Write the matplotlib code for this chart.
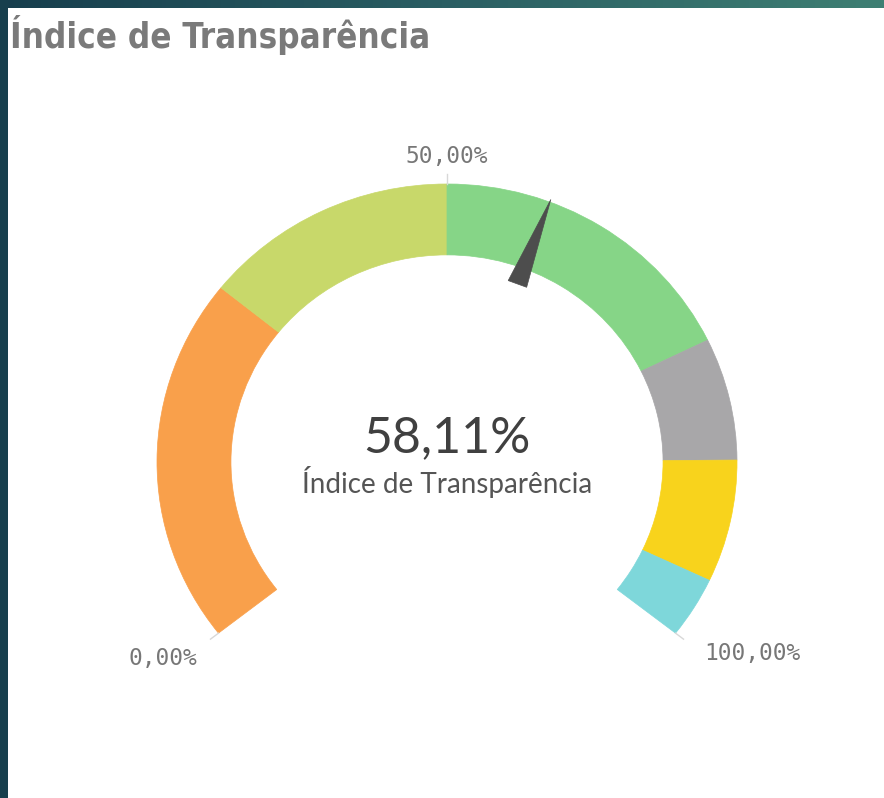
"""
Gauge do Índice de Transparência recriado com matplotlib.
"""

import numpy as np
import matplotlib
matplotlib.use('Agg')
import matplotlib.pyplot as plt
from matplotlib.patches import Wedge, Polygon, Rectangle

# Dados do gauge
band_limits = [0, 30, 50, 75, 85, 95, 100]
band_colors = ['#f9a04b', '#c8d86a', '#86d587', '#a8a7a9', '#f8d31c', '#7ed7da']
value = 58.11
tick_values = [0, 50, 100]
tick_labels = ['0,00%', '50,00%', '100,00%']
title = 'Índice de Transparência'
value_label = '58,11%'

# Geometria (ângulos em graus, raio unitário)
START_ANGLE = 218.0
END_ANGLE = -38.0
R_OUT = 1.0
R_IN = 0.745


def pct_to_angle(p):
    return START_ANGLE + (END_ANGLE - START_ANGLE) * p / 100.0


W, H = 884, 798
fig = plt.figure(figsize=(W / 100, H / 100), dpi=100)
fig.patch.set_facecolor('white')

# Moldura escura (faixa superior em degradê + faixa esquerda)
band = fig.add_axes([0, 1 - 8 / H, 1, 8 / H])
grad = np.linspace(0, 1, 256).reshape(1, -1)
cmap = matplotlib.colors.LinearSegmentedColormap.from_list('frame', ['#173e4d', '#2a5e63', '#3e7f73'])
band.imshow(grad, aspect='auto', cmap=cmap, extent=[0, 1, 0, 1])
band.axis('off')
fig.patches.append(Rectangle((0, 0), 8 / W, 1, transform=fig.transFigure,
                             facecolor='#173f4d', edgecolor='none', zorder=5))

# Eixo do gauge: centro em (447, 462) px, raio horizontal 290 px, vertical 278 px
cx, cy = 447, 462
sx, sy = 290, 278
ax = fig.add_axes([0, 0, 1, 1 - 8 / H])
ax.set_xlim(-cx / sx, (W - cx) / sx)
ax.set_ylim(-(H - cy) / sy, (cy - 8) / sy)
ax.axis('off')

for lo, hi, col in zip(band_limits[:-1], band_limits[1:], band_colors):
    a1, a2 = pct_to_angle(hi), pct_to_angle(lo)
    ax.add_patch(Wedge((0, 0), R_OUT, a1, a2, width=R_OUT - R_IN,
                       facecolor=col, edgecolor=col, linewidth=0.5))

# Marcas e rótulos
offsets = {0: (-12, -18, 'right'), 50: (0, 16, 'center'), 100: (20, -13, 'left')}
for v, lab in zip(tick_values, tick_labels):
    th = np.radians(pct_to_angle(v))
    ax.plot([R_OUT * np.cos(th), 1.035 * np.cos(th)],
            [R_OUT * np.sin(th), 1.035 * np.sin(th)], color='#d8d8d8', lw=1)
    px, py = 1.04 * np.cos(th), 1.04 * np.sin(th)
    dx, dy, ha = offsets[v]
    ax.annotate(lab, (px, py), xytext=(dx * 0.72, dy * 0.72), textcoords='offset points',
                ha=ha, va='center', fontsize=16.5, color='#777777',
                family='DejaVu Sans Mono')

# Ponteiro
th = np.radians(pct_to_angle(value))
u = np.array([np.cos(th), np.sin(th)])
n = np.array([-np.sin(th), np.cos(th)])
tip = 1.01 * u
base_c = 0.685 * u
needle = Polygon([tip, base_c + 0.034 * n, base_c - 0.034 * n],
                 closed=True, facecolor='#4d4d4d', edgecolor='#4d4d4d', lw=0.5, zorder=4)
ax.add_patch(needle)

# Texto central
ax.text(0, (cy - 438) / sy, value_label, ha='center', va='center', fontsize=36,
        color='#404040', family=['Lato', 'DejaVu Sans'])
ax.text(0, (cy - 482) / sy, title, ha='center', va='center', fontsize=20,
        color='#555555', family=['Lato', 'DejaVu Sans'])

# Título
fig.text(10 / W, 1 - 35 / H, title, ha='left', va='center', fontsize=25,
         fontweight='bold', color='#7a7a7a', fontstretch='condensed',
         family=['Liberation Sans Narrow', 'DejaVu Sans'])

fig.savefig('out.png', dpi=100)
